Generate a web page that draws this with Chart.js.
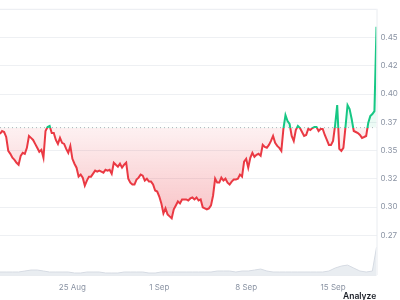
<!DOCTYPE html>
<html><head><meta charset="utf-8">
<script src="https://cdn.jsdelivr.net/npm/chart.js@4.4.0/dist/chart.umd.min.js"></script>
<style>
html,body{margin:0;padding:0;background:#fff;}
#wrap{position:relative;width:400px;height:300px;overflow:hidden;}
#analyze{position:absolute;left:343px;top:291px;font:600 8.5px Inter, sans-serif;color:#1b1f27;line-height:10px;}
</style></head><body>
<div id="wrap"><canvas id="c" width="400" height="300"></canvas><div id="analyze">Analyze</div></div>
<script>
const stepHours = 4;
const prices = [
0.3647,0.3673,0.3664,0.3620,0.3497,0.3471,0.3436,0.3418,0.3392,0.3374,
0.3453,0.3480,0.3471,0.3524,0.3629,0.3612,0.3594,0.3559,0.3524,0.3489,
0.3506,0.3436,0.3673,0.3708,0.3717,0.3655,0.3655,0.3594,0.3559,0.3612,
0.3568,0.3559,0.3515,0.3480,0.3541,0.3427,0.3383,0.3348,0.3269,0.3287,
0.3260,0.3190,0.3234,0.3269,0.3269,0.3295,0.3322,0.3313,0.3322,0.3313,
0.3304,0.3330,0.3322,0.3330,0.3295,0.3392,0.3374,0.3357,0.3383,0.3348,
0.3374,0.3392,0.3251,0.3216,0.3199,0.3199,0.3243,0.3260,0.3287,0.3278,
0.3234,0.3251,0.3225,0.3225,0.3199,0.3146,0.3137,0.3093,0.3032,0.2944,
0.2988,0.2935,0.2917,0.2900,0.2979,0.3014,0.3049,0.3032,0.3067,0.3067,
0.3067,0.3058,0.3076,0.3084,0.3067,0.3084,0.3058,0.3067,0.2997,0.2988,
0.2979,0.2988,0.3014,0.3102,0.3251,0.3216,0.3216,0.3260,0.3234,0.3251,
0.3216,0.3199,0.3225,0.3243,0.3243,0.3251,0.3287,0.3269,0.3401,0.3427,
0.3348,0.3436,0.3480,0.3445,0.3462,0.3471,0.3453,0.3550,0.3532,0.3524,
0.3550,0.3585,0.3629,0.3568,0.3541,0.3524,0.3497,0.3691,0.3814,0.3761,
0.3735,0.3629,0.3585,0.3682,0.3717,0.3699,0.3664,0.3629,0.3638,0.3691,
0.3682,0.3699,0.3708,0.3708,0.3673,0.3691,0.3691,0.3638,0.3594,0.3550,
0.3550,0.3585,0.3726,0.3902,0.3515,0.3497,0.3524,0.3708,0.3902,0.3867,
0.3779,0.3673,0.3664,0.3655,0.3638,0.3612,0.3620,0.3629,0.3744,0.3805,
0.3823,0.3849,0.4596
];
const baselinePrice = 0.3703;
const volStepHours = 12;
const volumes = [
3,3,3,3,4,5,5,4,3,3,3,3,2,2,3,3,3,2,2,2,
3,3,3,3,2,2,3,3,3,3,3,3,3,3,3,4,4,4,3,4,
4,5,6,4,3,3,3,3,3,3,3,3,3,4,7,9,10,7,4,3,
4,28
];
const yTickValues = [0.275,0.3,0.325,0.35,0.375,0.4,0.425,0.45];
const yTickLabels = ['0.27','0.30','0.32','0.35','0.37','0.40','0.42','0.45'];
const xTickHours = [140,308,476,644];
const xTickLabels = ['25 Aug','1 Sep','8 Sep','15 Sep'];

const RED = [234,57,67], GREEN = [22,199,132];
const rgba = (c,a)=>`rgba(${c[0]},${c[1]},${c[2]},${a})`;
const lastHour = (prices.length-1)*stepHours;
const yMin = 0.2398, yMax = 0.4755;

function basePos(chart){
  const a = chart.chartArea, y = chart.scales.y;
  const b = (y.getPixelForValue(baselinePrice)-a.top)/(a.bottom-a.top);
  return Math.min(1,Math.max(0,b));
}
function lineGrad(ctx){
  const chart = ctx.chart, a = chart.chartArea;
  if(!a) return rgba(RED,1);
  const b = basePos(chart);
  const g = chart.ctx.createLinearGradient(0,a.top,0,a.bottom);
  g.addColorStop(0,rgba(GREEN,1)); g.addColorStop(b,rgba(GREEN,1));
  g.addColorStop(b,rgba(RED,1)); g.addColorStop(1,rgba(RED,1));
  return g;
}
function fillGrad(ctx){
  const chart = ctx.chart, a = chart.chartArea;
  if(!a) return 'transparent';
  const b = basePos(chart);
  const lowPix = chart.scales.y.getPixelForValue(Math.min(...prices));
  const lb = Math.min(1,(lowPix-a.top)/(a.bottom-a.top));
  const g = chart.ctx.createLinearGradient(0,a.top,0,a.bottom);
  g.addColorStop(0,rgba(GREEN,0.22)); g.addColorStop(b,rgba(GREEN,0.08));
  g.addColorStop(b,rgba(RED,0.07)); g.addColorStop(lb,rgba(RED,0.3));
  g.addColorStop(1,rgba(RED,0.32));
  return g;
}

const frame = {
  id:'frame',
  afterDraw(chart){
    const {ctx, chartArea:a} = chart;
    ctx.save(); ctx.strokeStyle = '#e9ecf0'; ctx.lineWidth = 1;
    ctx.beginPath();
    ctx.moveTo(a.left, a.top+0.5); ctx.lineTo(a.right, a.top+0.5);
    ctx.moveTo(a.right+0.5, a.top); ctx.lineTo(a.right+0.5, a.bottom);
    ctx.moveTo(a.left, a.bottom+0.5); ctx.lineTo(a.right, a.bottom+0.5);
    ctx.stroke(); ctx.restore();
  }
};

new Chart(document.getElementById('c'), {
  type:'line',
  data:{datasets:[
    {data:prices.map((p,i)=>({x:i*stepHours,y:p})), yAxisID:'y',
     borderColor:lineGrad, backgroundColor:fillGrad, borderWidth:2,
     pointRadius:0, tension:0, fill:{target:{value:baselinePrice}}, order:1},
    {data:[{x:0,y:baselinePrice},{x:lastHour,y:baselinePrice}], yAxisID:'y',
     borderColor:'rgba(170,170,180,0.9)', borderWidth:1, borderDash:[1,3],
     pointRadius:0, fill:false, order:2},
    {data:volumes.map((v,k)=>({x:Math.min(k*volStepHours,lastHour),y:v})), yAxisID:'yv',
     borderColor:'rgba(214,219,227,1)', backgroundColor:'rgba(228,232,238,0.8)', borderWidth:1,
     pointRadius:0, fill:'origin', order:3}
  ]},
  options:{
    responsive:false, animation:false, devicePixelRatio:1,
    layout:{padding:{top:7,left:0,right:0,bottom:0}},
    plugins:{legend:{display:false}, tooltip:{enabled:false}},
    scales:{
      x:{type:'linear', min:0, max:lastHour,
         grid:{display:false, drawTicks:false}, border:{display:false},
         afterBuildTicks:s=>{s.ticks = xTickHours.map(v=>({value:v}));},
         afterFit:s=>{s.height = 25;},
         ticks:{autoSkip:false, maxRotation:0, padding:8, color:'#8a93a3',
                font:{family:'Inter', size:8},
                callback:v=>xTickLabels[xTickHours.indexOf(v)] ?? ''}},
      y:{position:'right', min:yMin, max:yMax,
         grid:{color:'#eef0f3', drawTicks:false}, border:{display:false},
         afterBuildTicks:s=>{s.ticks = yTickValues.map(v=>({value:v}));},
         afterFit:s=>{s.width = 23.5;},
         ticks:{padding:4, color:'#8a93a3', font:{family:'Inter', size:8},
                callback:v=>yTickLabels[yTickValues.indexOf(v)] ?? ''}},
      yv:{display:false, min:0, max:268}
    }
  },
  plugins:[frame]
});
</script>
</body></html>
